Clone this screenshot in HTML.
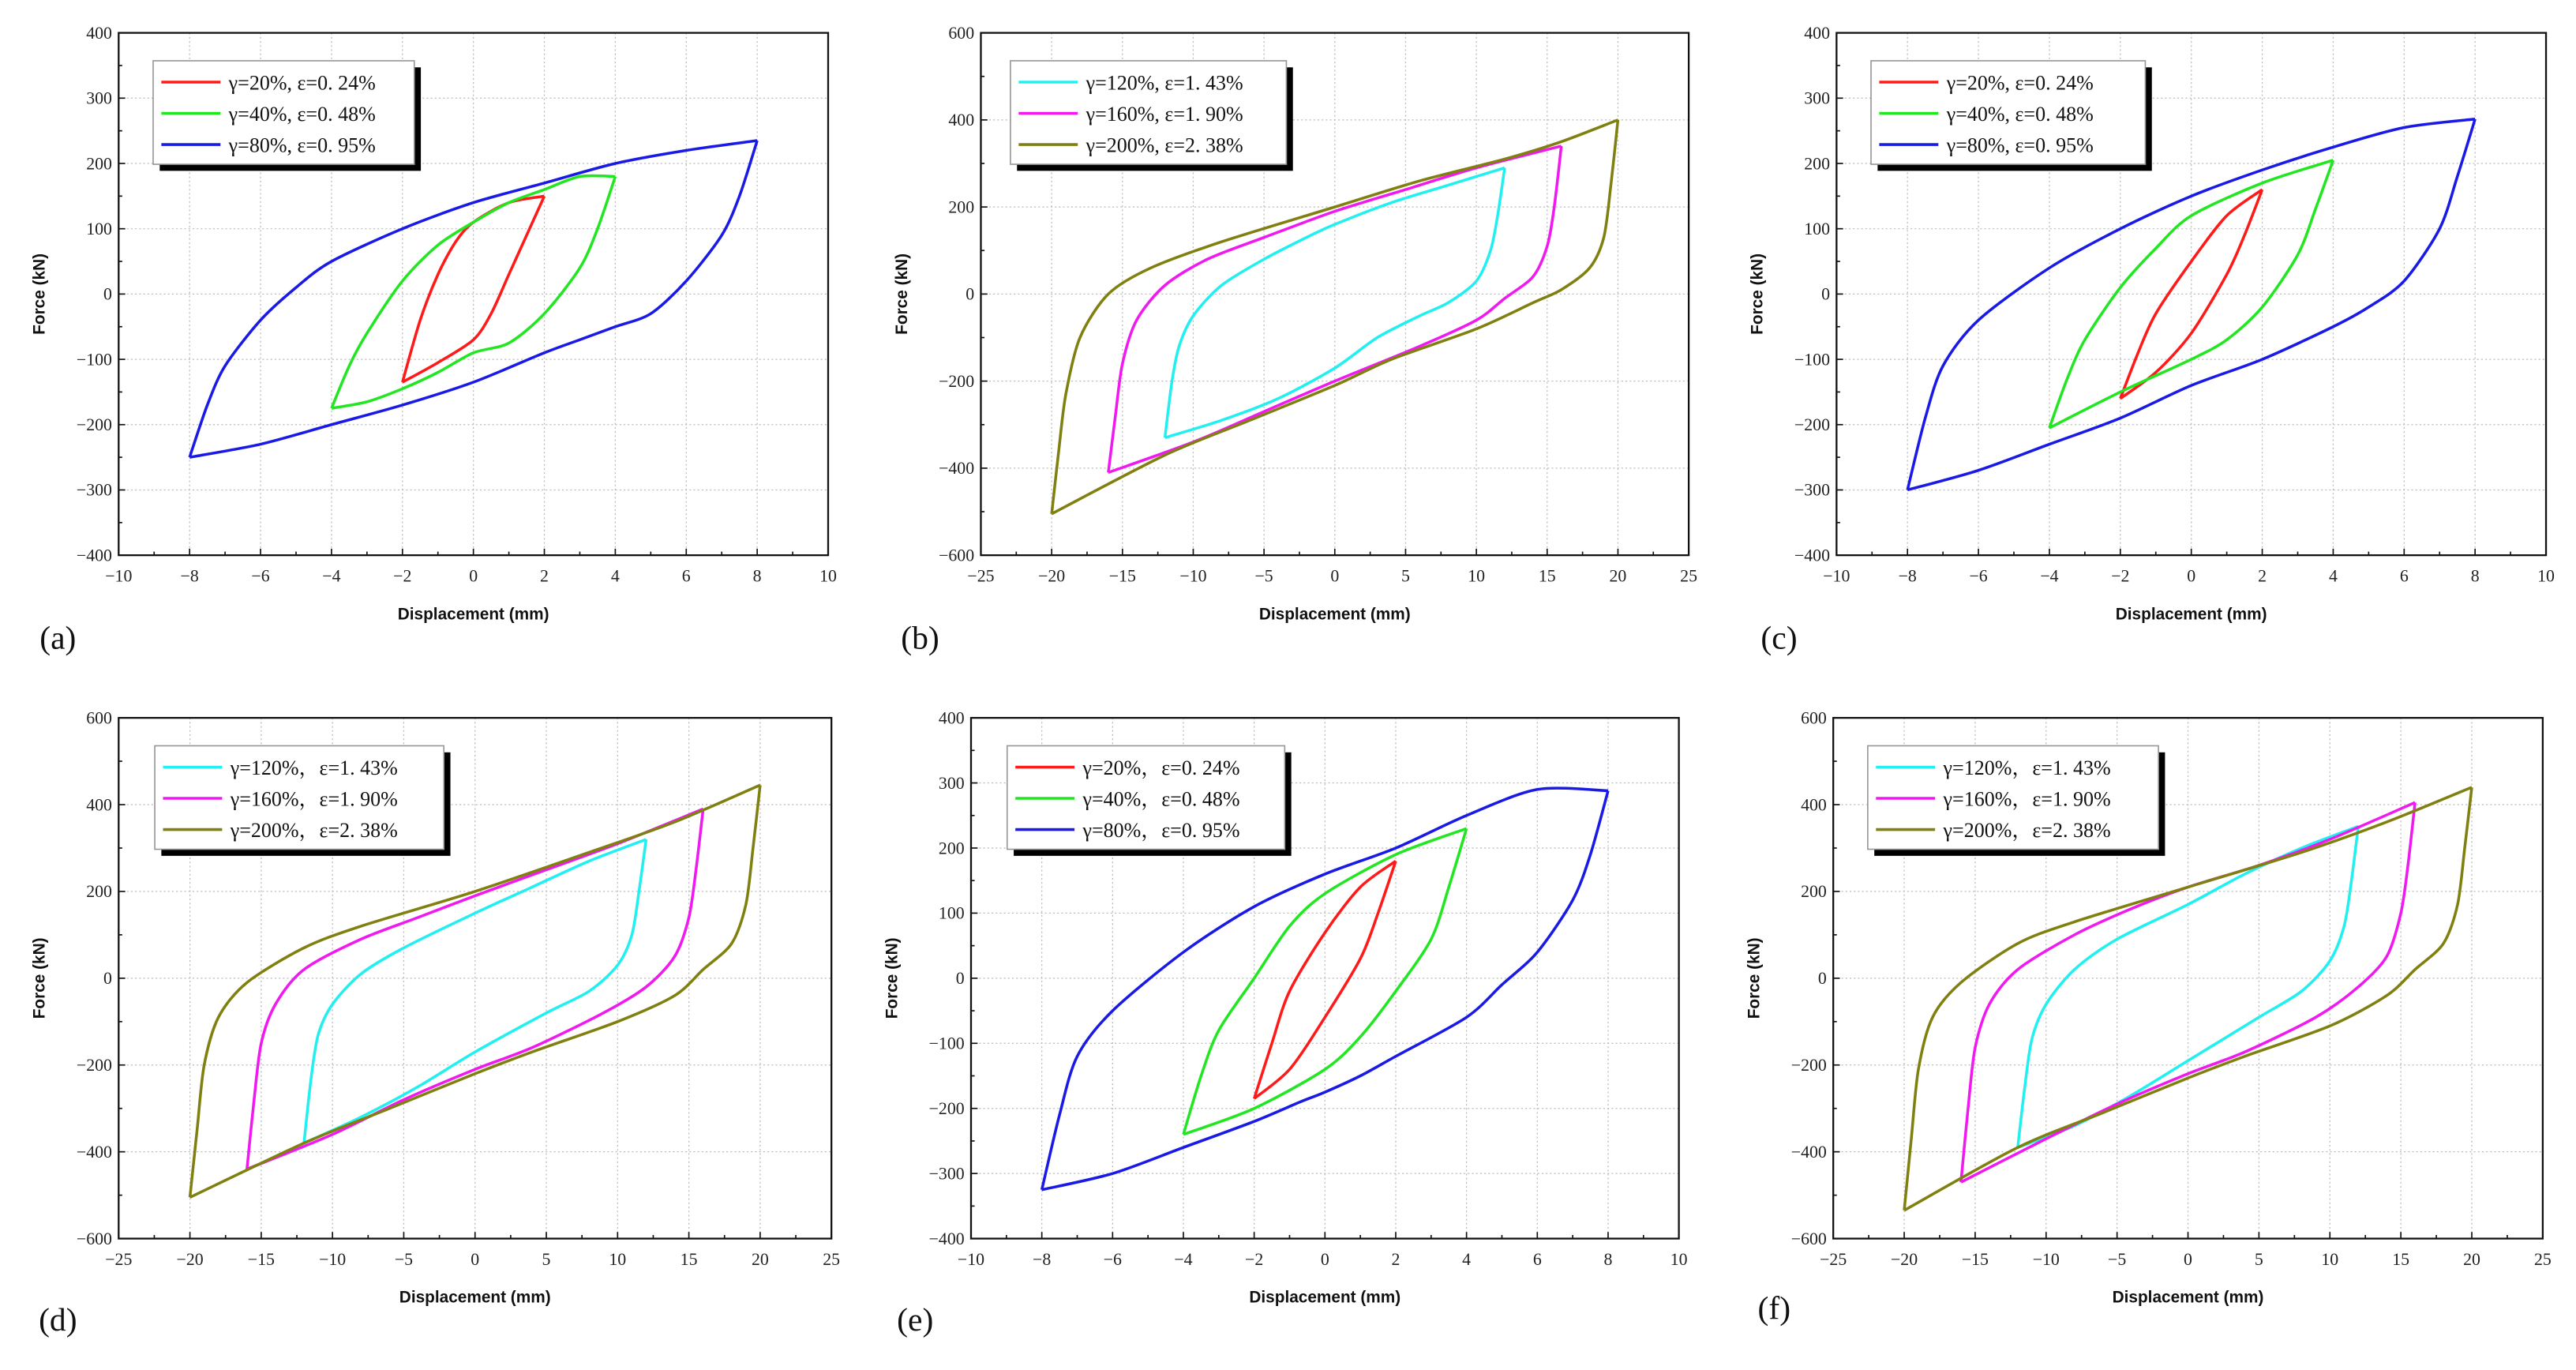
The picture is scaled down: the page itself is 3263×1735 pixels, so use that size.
<!DOCTYPE html>
<html><head><meta charset="utf-8"><style>
html,body{margin:0;padding:0;background:#fff;}
svg{display:block;}
.tk{font-family:"Liberation Serif",serif;font-size:10.5px;fill:#222;}
.al{font-family:"Liberation Sans",sans-serif;font-weight:bold;font-size:10px;fill:#111;}
.lg{font-family:"Liberation Serif","Noto Serif CJK SC",serif;font-size:12.5px;fill:#111;}
.pl{font-family:"Liberation Serif",serif;font-size:20px;fill:#111;}
</style></head><body>
<svg id="fig" width="3263" height="1735" viewBox="0 0 1568 834" xmlns="http://www.w3.org/2000/svg"></svg>
<script>
// ---- Panel (a) data ----
const a_red_x = [2,1.5,1,0.5,0,-1,-2,-1.5,-1,-0.5,0,1];
const a_red_y = [150,90,30,-30,-70,-105,-135,-40,30,80,110,140];
const a_green_x = [4,3.5,3,2,1,0,-1,-2,-3,-4,-3.5,-3,-2,-1,0,1,2,3];
const a_green_y = [180,100,40,-30,-75,-90,-120,-145,-165,-175,-110,-60,20,75,110,140,160,180];
const a_blue_x = [8,7.5,7,6,5,4,3,2,0,-2,-4,-6,-8,-7.5,-7,-6,-5,-4,-2,0,2,4,6];
const a_blue_y = [235,150,90,20,-30,-50,-70,-90,-135,-170,-200,-230,-250,-170,-110,-40,10,50,100,140,170,200,220];
// ---- Panel (b) data ----
const b_cyan_x = [12,11.5,11,10,8,6,3,0,-4,-8,-12,-11.5,-11,-10,-8,-5,-2,0,4,8];
const b_cyan_y = [290,180,100,30,-20,-50,-100,-170,-240,-290,-330,-200,-120,-50,20,80,130,160,210,250];
const b_mag_x = [16,15.5,15,14,12,10,6,0,-5,-10,-16,-15.5,-15,-14,-12,-9,-5,0,5,10];
const b_mag_y = [340,200,110,40,-10,-60,-120,-200,-270,-340,-410,-280,-160,-60,20,80,130,190,240,290];
const b_olive_x = [20,19.5,19,18,16,14,10,4,0,-6,-12,-20,-19.5,-19,-18,-16,-13,-8,0,6,12,16];
const b_olive_y = [400,250,130,60,10,-20,-80,-150,-210,-290,-370,-505,-360,-230,-100,0,60,120,200,260,310,350];
// ---- Panel (c) data ----
const c_red_x = [2,1.5,1,0,-1,-2,-1.5,-1,0,1];
const c_red_y = [160,90,30,-60,-120,-160,-90,-30,50,120];
const c_green_x = [4,3.5,3,2,1,0,-2,-4,-3.5,-3,-2,-1,0,2];
const c_green_y = [205,130,60,-20,-70,-100,-150,-205,-130,-70,10,70,120,170];
const c_blue_x = [8,7.5,7,6,5,4,2,0,-2,-4,-6,-8,-7.5,-7,-6,-4,-2,0,2,4,6];
const c_blue_y = [268,180,100,20,-20,-50,-100,-140,-190,-230,-270,-300,-190,-110,-40,40,100,150,190,225,255];
// ---- Panel (d) data ----
const d_cyan_x = [12,11.5,11,10,8,5,0,-4,-8,-12,-11.5,-11,-10,-8,-5,0,4,8];
const d_cyan_y = [320,200,100,30,-30,-80,-170,-250,-320,-380,-230,-130,-60,10,70,150,210,270];
const d_mag_x = [16,15.5,15,14,12,9,4,0,-5,-10,-16,-15.5,-15,-14,-12,-8,-4,0,5,10];
const d_mag_y = [390,250,140,50,-20,-80,-160,-210,-280,-360,-440,-280,-150,-60,20,90,140,190,250,310];
const d_olive_x = [20,19.5,19,18,16,14,10,4,0,-6,-12,-20,-19.5,-19,-18,-16,-12,-8,0,8,14];
const d_olive_y = [445,300,170,80,20,-40,-100,-170,-220,-300,-380,-505,-350,-200,-90,-10,70,120,200,290,360];
// ---- Panel (e) data ----
const e_red_x = [2,1.5,1,0,-1,-2,-1.5,-1,0,1];
const e_red_y = [180,100,30,-60,-140,-185,-100,-20,70,140];
const e_green_x = [4,3.5,3,2,1,0,-2,-4,-3.5,-3,-2,-1,0,2];
const e_green_y = [230,140,60,-20,-90,-140,-200,-240,-150,-80,0,80,130,190];
const e_blue_x = [8,7.5,7,6,5,4,2,1,0,-0.7,-2,-4,-6,-8,-7.5,-7,-6,-4,-2,0,2,4,6];
const e_blue_y = [288,190,120,40,-10,-60,-120,-150,-175,-190,-220,-260,-300,-325,-210,-120,-50,40,110,160,200,250,290];
// ---- Panel (f) data ----
const f_cyan_x = [12,11.5,11,10,8,5,0,-4,-8,-12,-11.5,-11,-10,-8,-5,0,4,8];
const f_cyan_y = [350,220,120,40,-30,-90,-190,-270,-340,-390,-250,-140,-60,20,90,170,240,300];
const f_mag_x = [16,15.5,15,14,12,9,4,0,-5,-10,-16,-15.5,-15,-14,-12,-8,-4,0,5,10];
const f_mag_y = [405,260,150,50,-20,-90,-170,-220,-290,-370,-470,-300,-160,-60,20,100,160,210,260,320];
const f_olive_x = [20,19.5,19,18,16,14,10,4,0,-6,-12,-20,-19.5,-19,-18,-16,-12,-8,0,8,14];
const f_olive_y = [440,300,170,80,20,-40,-110,-180,-230,-310,-390,-535,-370,-210,-90,-10,80,130,210,290,360];

const xTicksSmall = [-10,-8,-6,-4,-2,0,2,4,6,8,10];
const xTicksLarge = [-25,-20,-15,-10,-5,0,5,10,15,20,25];
const yTicks400 = [-400,-300,-200,-100,0,100,200,300,400];
const yTicks600 = [-600,-400,-200,0,200,400,600];
const legA = ["γ=20%, ε=0. 24%","γ=40%, ε=0. 48%","γ=80%, ε=0. 95%"];
const legB = ["γ=120%, ε=1. 43%","γ=160%, ε=1. 90%","γ=200%, ε=2. 38%"];
const legE = ["γ=20%，ε=0. 24%","γ=40%，ε=0. 48%","γ=80%，ε=0. 95%"];
const legD = ["γ=120%，ε=1. 43%","γ=160%，ε=1. 90%","γ=200%，ε=2. 38%"];

const NS="http://www.w3.org/2000/svg";
const svg=document.getElementById('fig');
function mk(tag,attrs,parent){const e=document.createElementNS(NS,tag);for(const k in attrs)e.setAttribute(k,attrs[k]);(parent||svg).appendChild(e);return e;}

const C3=['#ff1a1a','#22e622','#1a1ae6'];
const C6=['#22f0f0','#f01af0','#808010'];

const panels=[
 {id:'a',x0:72,x1:504,y0:20,y1:338,xt:xTicksSmall,yt:yTicks400,xmin:-10,xmax:10,ymin:-400,ymax:400,xminor:1,yminor:50,leg:legA,lx:93,lw:159,cols:C3,ser:[[a_red_x,a_red_y],[a_green_x,a_green_y],[a_blue_x,a_blue_y]],lab:[35,395]},
 {id:'b',x0:597,x1:1028,y0:20,y1:338,xt:xTicksLarge,yt:yTicks600,xmin:-25,xmax:25,ymin:-600,ymax:600,xminor:2.5,yminor:100,leg:legB,lx:615,lw:168,cols:C6,ser:[[b_cyan_x,b_cyan_y],[b_mag_x,b_mag_y],[b_olive_x,b_olive_y]],lab:[560,395]},
 {id:'c',x0:1118,x1:1550,y0:20,y1:338,xt:xTicksSmall,yt:yTicks400,xmin:-10,xmax:10,ymin:-400,ymax:400,xminor:1,yminor:50,leg:legA,lx:1139,lw:167,cols:C3,ser:[[c_red_x,c_red_y],[c_green_x,c_green_y],[c_blue_x,c_blue_y]],lab:[1083,395]},
 {id:'d',x0:72,x1:506,y0:437,y1:754,xt:xTicksLarge,yt:yTicks600,xmin:-25,xmax:25,ymin:-600,ymax:600,xminor:2.5,yminor:100,leg:legD,lx:94,lw:176,cols:C6,ser:[[d_cyan_x,d_cyan_y],[d_mag_x,d_mag_y],[d_olive_x,d_olive_y]],lab:[35,810]},
 {id:'e',x0:591,x1:1022,y0:437,y1:754,xt:xTicksSmall,yt:yTicks400,xmin:-10,xmax:10,ymin:-400,ymax:400,xminor:1,yminor:50,leg:legE,lx:613,lw:169,cols:C3,ser:[[e_red_x,e_red_y],[e_green_x,e_green_y],[e_blue_x,e_blue_y]],lab:[557,810]},
 {id:'f',x0:1116,x1:1548,y0:437,y1:754,xt:xTicksLarge,yt:yTicks600,xmin:-25,xmax:25,ymin:-600,ymax:600,xminor:2.5,yminor:100,leg:legD,lx:1137,lw:177,cols:C6,ser:[[f_cyan_x,f_cyan_y],[f_mag_x,f_mag_y],[f_olive_x,f_olive_y]],lab:[1080,803]}
];

// monotone-ish smooth open curve (Catmull-Rom with clamped ends, reduced tension)
function smoothOpen(pts){
 const n=pts.length;let d='M'+pts[0][0].toFixed(2)+','+pts[0][1].toFixed(2);
 for(let i=0;i<n-1;i++){
  const p0=pts[Math.max(i-1,0)],p1=pts[i],p2=pts[i+1],p3=pts[Math.min(i+2,n-1)];
  const k=1/7;
  const c1=[p1[0]+(p2[0]-p0[0])*k,p1[1]+(p2[1]-p0[1])*k];
  const c2=[p2[0]-(p3[0]-p1[0])*k,p2[1]-(p3[1]-p1[1])*k];
  d+=' C'+c1[0].toFixed(2)+','+c1[1].toFixed(2)+' '+c2[0].toFixed(2)+','+c2[1].toFixed(2)+' '+p2[0].toFixed(2)+','+p2[1].toFixed(2);
 }
 return d;
}

panels.forEach(p=>{
 const g=mk('g',{});
 
 
 const sx=v=>p.x0+(v-p.xmin)/(p.xmax-p.xmin)*(p.x1-p.x0);
 const sy=v=>p.y1-(v-p.ymin)/(p.ymax-p.ymin)*(p.y1-p.y0);
 p.xt.forEach(v=>{if(v>p.xmin&&v<p.xmax){const l=mk('line',{x1:sx(v),x2:sx(v),y1:p.y0,y2:p.y1,stroke:'#bbb','stroke-width':0.6,'stroke-dasharray':'1,1.5'},g);}});
 p.yt.forEach(v=>{if(v>p.ymin&&v<p.ymax){const l=mk('line',{x1:p.x0,x2:p.x1,y1:sy(v),y2:sy(v),stroke:'#bbb','stroke-width':0.6,'stroke-dasharray':'1,1.5'},g);}});
 p.ser.forEach((s,i)=>{
  const pts=s[0].map((x,k)=>[sx(x),sy(s[1][k])]);
  let mi=0;s[0].forEach((x,k)=>{if(x<s[0][mi])mi=k;});
  const down=pts.slice(0,mi+1);
  const up=pts.slice(mi).concat([pts[0]]);
  const path=mk('path',{d:smoothOpen(down)+' '+smoothOpen(up),fill:'none',stroke:p.cols[i],'stroke-width':1.7,'stroke-linejoin':'round'},g);
  
  
 });
 const fr=mk('rect',{x:p.x0,y:p.y0,width:p.x1-p.x0,height:p.y1-p.y0,fill:'none',stroke:'#111','stroke-width':1.1},g);
 
 
 for(let v=p.xmin;v<=p.xmax+1e-9;v+=p.xminor){const major=p.xt.some(t=>Math.abs(t-v)<1e-9);mk('line',{x1:sx(v),x2:sx(v),y1:p.y1,y2:p.y1-(major?4:2.2),stroke:'#111','stroke-width':0.8},g);}
 for(let v=p.ymin;v<=p.ymax+1e-9;v+=p.yminor){const major=p.yt.some(t=>Math.abs(t-v)<1e-9);mk('line',{x1:p.x0,x2:p.x0+(major?4:2.2),y1:sy(v),y2:sy(v),stroke:'#111','stroke-width':0.8},g);}
 p.xt.forEach(v=>{const t=mk('text',{x:sx(v),y:p.y1+16,'text-anchor':'middle',class:'tk'},g);t.textContent=(v<0?'−':'')+Math.abs(v);});
 p.yt.forEach(v=>{const t=mk('text',{x:p.x0-4,y:sy(v)+3.5,'text-anchor':'end',class:'tk'},g);t.textContent=(v<0?'−':'')+Math.abs(v);});
 const xl=mk('text',{x:(p.x0+p.x1)/2,y:p.y1+39,'text-anchor':'middle',class:'al'},g);xl.textContent='Displacement (mm)';
 
 const ymid=(p.y0+p.y1)/2;const yx=p.x0-45;
 const yl=mk('text',{x:yx,y:ymid,'text-anchor':'middle',class:'al',transform:'rotate(-90 '+yx+' '+ymid+')'},g);yl.textContent='Force (kN)';
 
 const ly=p.y0+17;
 mk('rect',{x:p.lx+4,y:ly+4,width:p.lw,height:63,fill:'#000'},g);
 const lb=mk('rect',{x:p.lx,y:ly,width:p.lw,height:63,fill:'#fff',stroke:'#999','stroke-width':0.8},g);
 
 p.leg.forEach((txt,i)=>{
  const yy=ly+13+i*19;
  const sw=mk('line',{x1:p.lx+5,x2:p.lx+41,y1:yy,y2:yy,stroke:p.cols[i],'stroke-width':1.7},g);
  
  const t=mk('text',{x:p.lx+46,y:yy+4.5,class:'lg'},g);t.textContent=txt;
  
 });
 const pl=mk('text',{x:p.lab[0],y:p.lab[1],'text-anchor':'middle',class:'pl'},g);pl.textContent='('+p.id+')';
 
});
</script>
</body></html>
